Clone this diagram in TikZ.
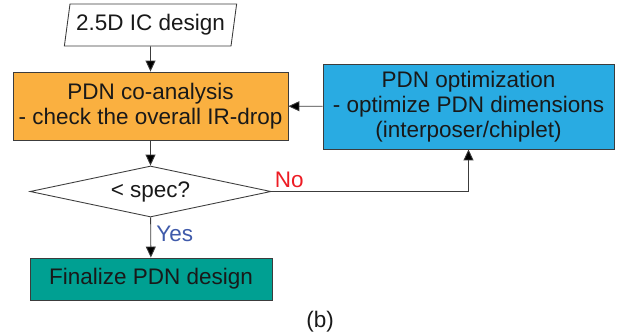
\documentclass[tikz,border=0pt]{standalone}
\usepackage{fontspec}
\setmainfont{Liberation Sans}
\usetikzlibrary{shapes.geometric, arrows.meta, positioning}
\definecolor{stepin}{RGB}{250, 176, 64}
\definecolor{stepopt}{RGB}{41, 171, 226}
\definecolor{stepout}{RGB}{0, 160, 146}
\definecolor{edge}{RGB}{60, 60, 60}
\definecolor{nored}{RGB}{237, 28, 36}
\definecolor{yesblue}{RGB}{63, 90, 170}
\newcommand{\flowfont}{\fontsize{12.8}{14.2}\selectfont}
\tikzset{
    flowbox/.style={draw=edge, line width=0.5pt, rectangle, align=center, inner sep=2pt,
        font=\flowfont, text=black!90},
    iobox/.style={draw=edge, line width=0.5pt, trapezium, trapezium left angle=79,
        trapezium right angle=101, trapezium stretches=true, inner sep=2pt,
        minimum height=0.84cm, minimum width=3.46cm, font=\flowfont, text=black!90},
    decbox/.style={draw=edge, line width=0.5pt, diamond, aspect=4.7, inner sep=0pt,
        minimum width=4.82cm, minimum height=1.02cm, font=\flowfont, text=black!90},
    flowarrow/.style={draw=edge, line width=0.5pt, -{Triangle[length=2.2mm, width=2mm, fill=black]}},
}

\begin{document}
\begin{tikzpicture}[x=0.02cm, y=-0.02cm]
    \useasboundingbox (0,0) rectangle (618,335);

    % Boxes
    \node[iobox] (inp) at (150.5,25) {2.5D IC design};
    \node[flowbox, fill=stepin, minimum width=5.5cm, minimum height=1.36cm] (coa) at (150.5,106)
        {PDN co-analysis\\- check the overall IR-drop};
    \node[flowbox, fill=stepopt, minimum width=5.82cm, minimum height=1.7cm] (opt) at (468.5,106.5)
        {PDN optimization\\- optimize PDN dimensions\\(interposer/chiplet)};
    \node[decbox] (dec) at (150.5,191.5) {{<} spec?};
    \node[flowbox, fill=stepout, minimum width=4.84cm, minimum height=0.84cm] (fin) at (151,279)
        {Finalize PDN design};

    % Arrows
    \draw[flowarrow] (inp) -- (coa);
    \draw[flowarrow] (coa) -- (dec);
    \draw[flowarrow] (dec) -- node[pos=0.4, right, text=yesblue, font=\flowfont, inner sep=3pt] {Yes} (fin);
    \draw[flowarrow] (dec.east) -| node[pos=0.045, above, text=nored, font=\flowfont, inner sep=2pt] {No} (opt.south);
    \draw[flowarrow] (opt) -- (coa);

    \node[font=\flowfont, text=black!90] (cap) at (320,322) {(b)};
\end{tikzpicture}
\end{document}
